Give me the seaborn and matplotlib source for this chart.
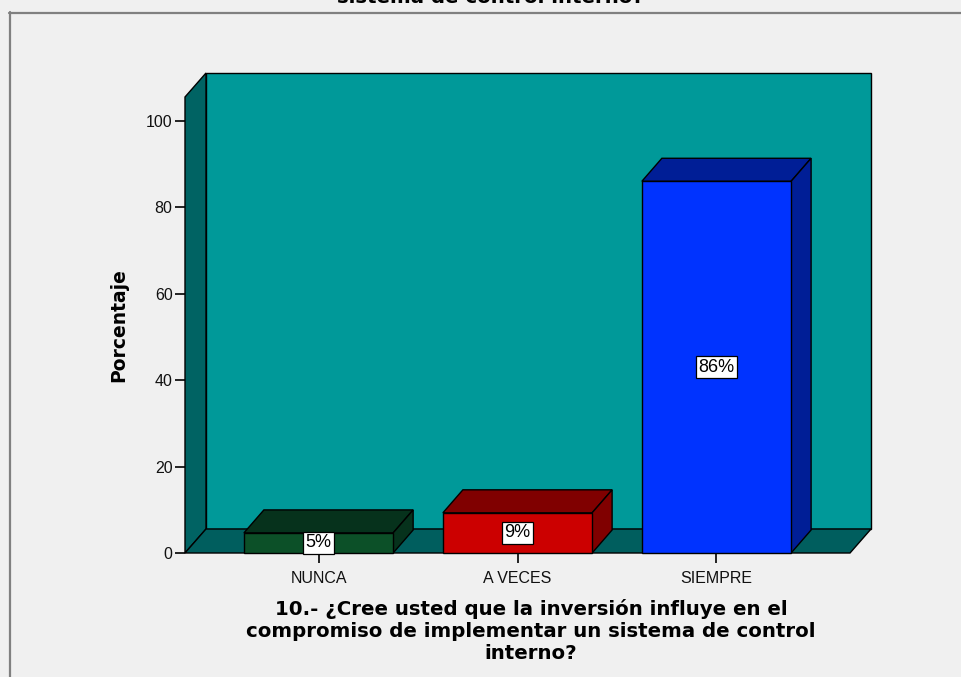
import matplotlib
matplotlib.use("Agg")
import matplotlib.pyplot as plt
import seaborn as sns
import pandas as pd
from matplotlib.patches import Polygon, Rectangle
from matplotlib.lines import Line2D

# ---- data ----
categories = ["NUNCA", "A VECES", "SIEMPRE"]
percentages = [4.65, 9.30, 86.05]
value_labels = ["5%", "9%", "86%"]
y_ticks = [0, 20, 40, 60, 80, 100]
x_title = "10.- ¿Cree usted que la inversión influye en el\ncompromiso de implementar un sistema de control\ninterno?"
y_title = "Porcentaje"
top_title = "sistema de control interno?"

front_colors = {"NUNCA": "#0c5028", "A VECES": "#cc0000", "SIEMPRE": "#0033ff"}
shade_colors = {"NUNCA": "#06321c", "A VECES": "#800000", "SIEMPRE": "#001e96"}

BG = "#f0f0f0"
sns.set_theme(style="white")
plt.rcParams["font.family"] = ["Liberation Sans", "DejaVu Sans"]
BOLD_FAMILY = ["DejaVu Sans", "Liberation Sans"]

W, H = 962, 677
fig = plt.figure(figsize=(W / 100, H / 100), dpi=100)
fig.patch.set_facecolor(BG)

# axes = front plane of the 3D box (pixels: x 185..850, y 97..553)
L, R, T, B = 185, 850, 97, 553
ax = fig.add_axes([L / W, 1 - B / H, (R - L) / W, (B - T) / H])
ax.set_facecolor("none")

df = pd.DataFrame({"cat": categories, "pct": percentages})
sns.barplot(data=df, x="cat", y="pct", hue="cat", order=categories,
            palette=front_colors, legend=False, width=0.75,
            edgecolor="black", linewidth=1.0, ax=ax, saturation=1)

ax.set_xlim(-0.671, 2.671)
ax.set_ylim(0, 105.56)
xmin, xmax = ax.get_xlim()
ymin, ymax = ax.get_ylim()

# pixel offsets -> data offsets
def px_to_data(dxp, dyp):
    sx = (xmax - xmin) / (R - L)
    sy = (ymax - ymin) / (B - T)
    return dxp * sx, dyp * sy

wdx, wdy = px_to_data(21, 24)
bdx, bdy = px_to_data(20, 23)

ek = dict(edgecolor="black", linewidth=1.0, clip_on=False, joinstyle="miter")
# back wall
ax.add_patch(Rectangle((xmin + wdx, ymin + wdy), xmax - xmin, ymax - ymin,
                       facecolor="#009999", zorder=0.1, **ek))
# left wall
ax.add_patch(Polygon([(xmin, ymin), (xmin, ymax), (xmin + wdx, ymax + wdy),
                      (xmin + wdx, ymin + wdy)], closed=True,
                     facecolor="#006363", zorder=0.2, **ek))
# floor
ax.add_patch(Polygon([(xmin, ymin), (xmax, ymin), (xmax + wdx, ymin + wdy),
                      (xmin + wdx, ymin + wdy)], closed=True,
                     facecolor="#005e5e", zorder=0.3, **ek))

# 3D faces of bars
for p, cat in zip(ax.patches[:len(categories)], categories):
    x0, w, h = p.get_x(), p.get_width(), p.get_height()
    p.set_zorder(3)
    p.set_clip_on(False)
    c = shade_colors[cat]
    ax.add_patch(Polygon([(x0, h), (x0 + w, h), (x0 + w + bdx, h + bdy),
                          (x0 + bdx, h + bdy)], closed=True,
                         facecolor=c, zorder=2.5, **ek))
    ax.add_patch(Polygon([(x0 + w, 0), (x0 + w, h), (x0 + w + bdx, h + bdy),
                          (x0 + w + bdx, bdy)], closed=True,
                         facecolor=c, zorder=2.5, **ek))

# value labels
for i, (v, lab) in enumerate(zip(percentages, value_labels)):
    ax.text(i, v / 2, lab, ha="center", va="center", fontsize=13,
            color="black", zorder=5,
            bbox=dict(boxstyle="square,pad=0.15", facecolor="white",
                      edgecolor="black", linewidth=0.9))

for s in ax.spines.values():
    s.set_visible(False)

ax.set_yticks(y_ticks)
ax.set_yticklabels([str(t) for t in y_ticks])
ax.tick_params(axis="y", left=True, length=7, width=1.2, color="black",
               labelsize=11.5, pad=2, labelcolor="#111111")
ax.tick_params(axis="x", bottom=True, length=7, width=1.2, color="black",
               labelsize=11.5, pad=6, labelcolor="#111111")

ax.set_xlabel("")
ax.set_ylabel(y_title, fontsize=13.5, fontweight="bold", color="black",
              family=BOLD_FAMILY)
ax.yaxis.set_label_coords(-0.0857, 0.5)

fig.text(531 / W, 1 - 631 / H, x_title, ha="center", va="center",
         fontsize=14.25, fontweight="bold", color="black", linespacing=1.18,
         family=BOLD_FAMILY)

fig.text(490 / W, 1 - 3 / H, top_title, ha="center", va="baseline",
         fontsize=14.25, fontweight="bold", color="black", family=BOLD_FAMILY)

# outer frame
fig.add_artist(Line2D([9.5 / W, 9.5 / W], [0, 1 - 12 / H], transform=fig.transFigure,
                      color="#808080", linewidth=1.6))
fig.add_artist(Line2D([9 / W, 1], [1 - 12.5 / H, 1 - 12.5 / H], transform=fig.transFigure,
                      color="#808080", linewidth=1.6))

fig.savefig("out.png", dpi=100, facecolor=BG)
